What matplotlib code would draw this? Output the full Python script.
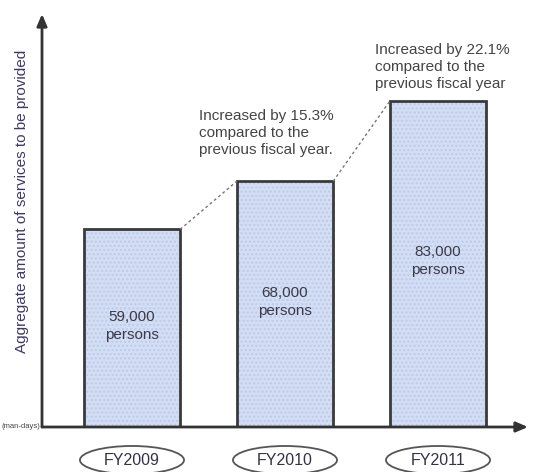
import matplotlib.pyplot as plt
from matplotlib.patches import Ellipse

plt.rcParams['font.family'] = ['Liberation Sans', 'DejaVu Sans']
plt.rcParams['hatch.linewidth'] = 1.0

years = ['FY2009', 'FY2010', 'FY2011']
persons = [59000, 68000, 83000]
bar_labels = ['59,000\npersons', '68,000\npersons', '83,000\npersons']
growth_notes = ['Increased by 15.3%\ncompared to the\nprevious fiscal year.',
                'Increased by 22.1%\ncompared to the\nprevious fiscal year']
y_title = 'Aggregate amount of services to be provided'
unit = '(man-days)'

base = 22000
top = 99300
width = 0.63
x = list(range(len(years)))

fig = plt.figure(figsize=(5.34, 4.72), dpi=100)
ax = fig.add_axes([42 / 534, 45 / 472, 486 / 534, 413 / 472])
ax.set_xlim(-0.588, 2.588)
ax.set_ylim(base, top)
ax.axis('off')

heights = [v - base for v in persons]
# dotted light fill first, dark outline on top
ax.bar(x, heights, width, bottom=base, color='#d3ddf3', edgecolor='#bccbec',
       linewidth=0, hatch='....')
ax.bar(x, heights, width, bottom=base, fill=False, edgecolor='#3a3a3a',
       linewidth=2)

for i, lab in enumerate(bar_labels):
    ax.text(x[i], base + (persons[i] - base) * 0.51, lab, ha='center', va='center',
            fontsize=11, color='#3a3a4a', linespacing=1.35)

# dotted links between bar tops
for i in range(len(x) - 1):
    ax.plot([x[i] + width / 2, x[i + 1] - width / 2], [persons[i], persons[i + 1]],
            ls=(0, (2, 2)), color='#777777', lw=1)

note_pos = [(0.44, 81500), (1.59, 93800)]
for (nx, ny), note in zip(note_pos, growth_notes):
    ax.text(nx, ny, note, ha='left', va='top', fontsize=11, color='#444444',
            linespacing=1.25, clip_on=False)

# axes with arrow heads
ax.annotate('', xy=(0, 1), xytext=(0, 0), xycoords='axes fraction',
            arrowprops=dict(arrowstyle='-|>,head_length=0.7,head_width=0.3',
                            color='#333333', lw=2, shrinkA=0, shrinkB=0))
ax.annotate('', xy=(1, 0), xytext=(0, 0), xycoords='axes fraction',
            arrowprops=dict(arrowstyle='-|>,head_length=0.7,head_width=0.3',
                            color='#333333', lw=2, shrinkA=0, shrinkB=0))

# year tags in ellipses below the axis
for i, yr in enumerate(years):
    ax.add_patch(Ellipse((x[i], -0.08), 0.68, 0.068, transform=ax.get_xaxis_transform(),
                         fill=False, edgecolor='#555555', lw=1.3, clip_on=False))
    ax.text(x[i], -0.08, yr, transform=ax.get_xaxis_transform(), ha='center',
            va='center', fontsize=11.5, color='#333344')

fig.text(22 / 534, 1 - 201 / 472, y_title, rotation=90, ha='center', va='center',
         fontsize=11, color='#3a3a6a')
fig.text(1 / 534, 45 / 472, unit, ha='left', va='center', fontsize=5.5, color='#444444')

fig.savefig('out.png', dpi=100)
